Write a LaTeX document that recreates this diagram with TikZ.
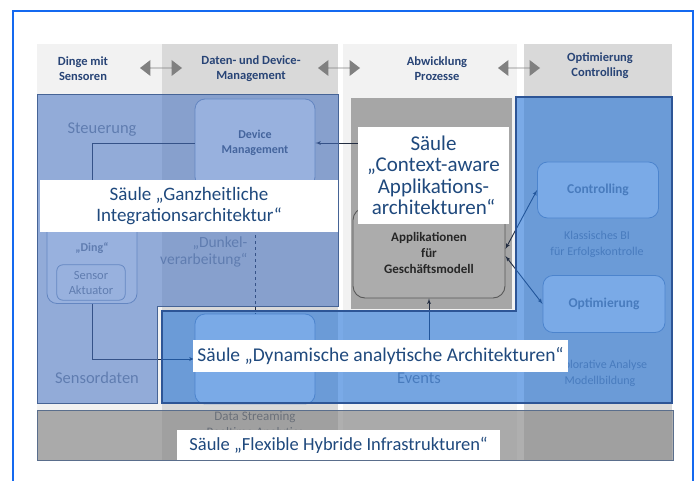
\documentclass[tikz,border=0pt]{standalone}
\usepackage{fontspec}
\setmainfont{Carlito}
\usepackage{tikz}
\usetikzlibrary{arrows,shapes}
\definecolor{frameblue}{RGB}{20,105,240}
\definecolor{hdrlight}{RGB}{242,242,242}
\definecolor{hdrdark}{RGB}{217,217,217}
\definecolor{hdrtext}{RGB}{40,68,118}
\definecolor{arrowgrey}{RGB}{128,128,128}
\definecolor{procgrey}{RGB}{166,166,166}
\definecolor{appgrey}{RGB}{172,172,172}
\definecolor{baseblue}{RGB}{68,114,196}
\definecolor{brightblue}{RGB}{34,114,215}
\definecolor{saeuletext}{RGB}{31,73,125}
\definecolor{boxline}{RGB}{140,160,190}
\definecolor{boxtext}{RGB}{70,85,110}
\definecolor{fadetext}{RGB}{130,138,152}
\definecolor{connline}{RGB}{35,45,65}
\tikzstyle{header} = [align=center, text=hdrtext, font=\fontsize{12.5}{15}\selectfont\bfseries]
\tikzstyle{pfeil} = [double arrow, fill=arrowgrey, minimum width=16pt, minimum height=42pt,
    double arrow head extend=4pt, double arrow tip angle=75, inner sep=0pt]
\tikzstyle{box} = [draw=boxline, fill=white, rounded corners=10pt, line width=0.8pt,
    align=center, text=boxtext, font=\fontsize{12}{15}\selectfont\bfseries]
\tikzstyle{fade} = [align=center, text=fadetext, font=\fontsize{16.5}{17}\selectfont]
\tikzstyle{small} = [align=center, text=fadetext, font=\fontsize{12}{16}\selectfont]
\tikzstyle{appbox} = [draw=black!65, fill=appgrey, rounded corners=12pt, line width=0.9pt,
    align=center, text=black!85, font=\fontsize{13}{16}\selectfont\bfseries]
\tikzstyle{conn} = [draw=connline, line width=0.9pt]
\tikzstyle{saeule1} = [fill=baseblue, fill opacity=0.55, draw={rgb,255:red,70;green,100;blue,150}, line width=1pt]
\tikzstyle{saeule2} = [fill=brightblue, fill opacity=0.6, draw={rgb,255:red,45;green,85;blue,150}, line width=1.2pt]
\tikzstyle{band} = [fill=black!50, fill opacity=0.63, draw={rgb,255:red,90;green,110;blue,140}, line width=1pt]
\tikzstyle{saeulelbl} = [fill=white, align=center, text=saeuletext, inner sep=0pt]

\begin{document}
\begin{tikzpicture}[x=1pt, y=-1pt, >=latex']
    \useasboundingbox (0,0) rectangle (698,481);

    % columns with their headers
    \fill[hdrlight] (37,44) rectangle (162,460);
    \fill[hdrdark] (162,44) rectangle (338,460);
    \fill[hdrlight] (343,44) rectangle (517,460);
    \fill[hdrdark] (524,44) rectangle (672,460);

    \node[header] (dinge) at (83,69) {Dinge mit\\Sensoren};
    \node[header] (daten) at (251,69) {Daten- und Device-\\Management};
    \node[header] (abwickl) at (437,69) {Abwicklung\\Prozesse};
    \node[header] (optim) at (600,66) {Optimierung\\Controlling};
    \node[pfeil] (p1) at (161,68) {};
    \node[pfeil] (p2) at (339,68) {};
    \node[pfeil] (p3) at (519,68) {};

    % underlying components
    \node[fade] (steuer) at (102,130) {Steuerung};
    \node[fade] (sensdat) at (97,378) {Sensordaten};
    \node[box, minimum width=90pt, minimum height=103pt] (ding) at (92,252) {};
    \node[text=fadetext, font=\fontsize{12}{15}\selectfont\bfseries] (dinglbl) at (92,248) {„Ding“};
    \node[text=fadetext, align=center, font=\fontsize{12.5}{15}\selectfont,
        minimum width=68pt, minimum height=35pt, inner sep=0pt] (sensor) at (91,282.5) {Sensor\\Aktuator};
    \draw[draw=boxline, line width=0.8pt, rounded corners=6pt] (sensor.south west) rectangle (sensor.north east);

    \node[box, minimum width=120pt, minimum height=88pt] (dm) at (255,143) {Device\\Management};
    \node[small, anchor=east, align=right, font=\fontsize{15.5}{16.5}\selectfont] (dunkel) at (251,252) {„Dunkel-\\verarbeitung“};
    \node[box, minimum width=120pt, minimum height=90pt] (ds) at (255,359) {};
    \node[small, text=boxtext, font=\fontsize{13}{16}\selectfont] (dstxt) at (255,425) {Data Streaming\\Realtime Analytics};

    \fill[procgrey] (351,98) rectangle (512,309);
    \node[text=black!65, font=\fontsize{16}{18}\selectfont] (veraend) at (418,135) {Veränderungen};
    \node[appbox, minimum width=152pt, minimum height=90pt] (app) at (429,253) {Applikationen\\für\\Geschäftsmodell};
    \node[fade] (events) at (419,378) {Events};

    \node[box, minimum width=121pt, minimum height=56pt, text=fadetext, font=\fontsize{13.5}{15}\selectfont\bfseries] (contr) at (598,190) {Controlling};
    \node[small] (klass) at (597,244) {Klassisches BI\\für Erfolgskontrolle};
    \node[box, minimum width=122pt, minimum height=57pt, text=fadetext, font=\fontsize{13.5}{15}\selectfont\bfseries] (opt) at (604,304) {Optimierung};
    \node[small] (explor) at (600,373) {Explorative Analyse\\Modellbildung};

    % connectors
    \coordinate (vr) at (385,143);
    \coordinate (ev) at (429,356);
    \draw[conn, ->] (dm.west) -| (ding.north);
    \draw[conn, ->] (ding.south) |- (ds.west);
    \draw[conn, dashed] (dm.south) -- (ds.north);
    \draw[conn, ->] (vr) -- (dm.east);
    \draw[conn, ->] (ev) -- (app.south);
    \draw[conn, <->] ([yshift=4pt]app.east) -- (contr.west);
    \draw[conn, <->] ([yshift=-3pt]app.east) -- (opt.west);

    % the four pillars
    \filldraw[saeule1] (37,95) -- (338,95) -- (338,306) -- (157,306) -- (157,403) -- (37,403) -- cycle;
    \filldraw[saeule2] (162,311) -- (516,311) -- (516,97) -- (672,97) -- (672,403) -- (162,403) -- cycle;
    \filldraw[band] (37,410) rectangle (673,460);

    \node[saeulelbl, minimum width=298pt, minimum height=52pt, font=\fontsize{19}{21.5}\selectfont] (integr) at (189,206)
        {Säule „Ganzheitliche\\Integrationsarchitektur“};
    \node[saeulelbl, minimum width=151pt, minimum height=97pt, font=\fontsize{21}{21.5}\selectfont] (context) at (433.5,175.5)
        {Säule\\„Context-aware\\Applikations-\\architekturen“};
    \node[saeulelbl, minimum width=375pt, minimum height=32pt, font=\fontsize{19.5}{21}\selectfont] (dynam) at (380.5,356)
        {Säule „Dynamische analytische Architekturen“};
    \node[saeulelbl, minimum width=323pt, minimum height=30pt, font=\fontsize{18.5}{21}\selectfont] (flex) at (338.5,445)
        {Säule „Flexible Hybride Infrastrukturen“};

    % frame
    \draw[frameblue, line width=2pt] (13,490) -- (13,11) -- (693,11) -- (693,490);
\end{tikzpicture}
\end{document}
